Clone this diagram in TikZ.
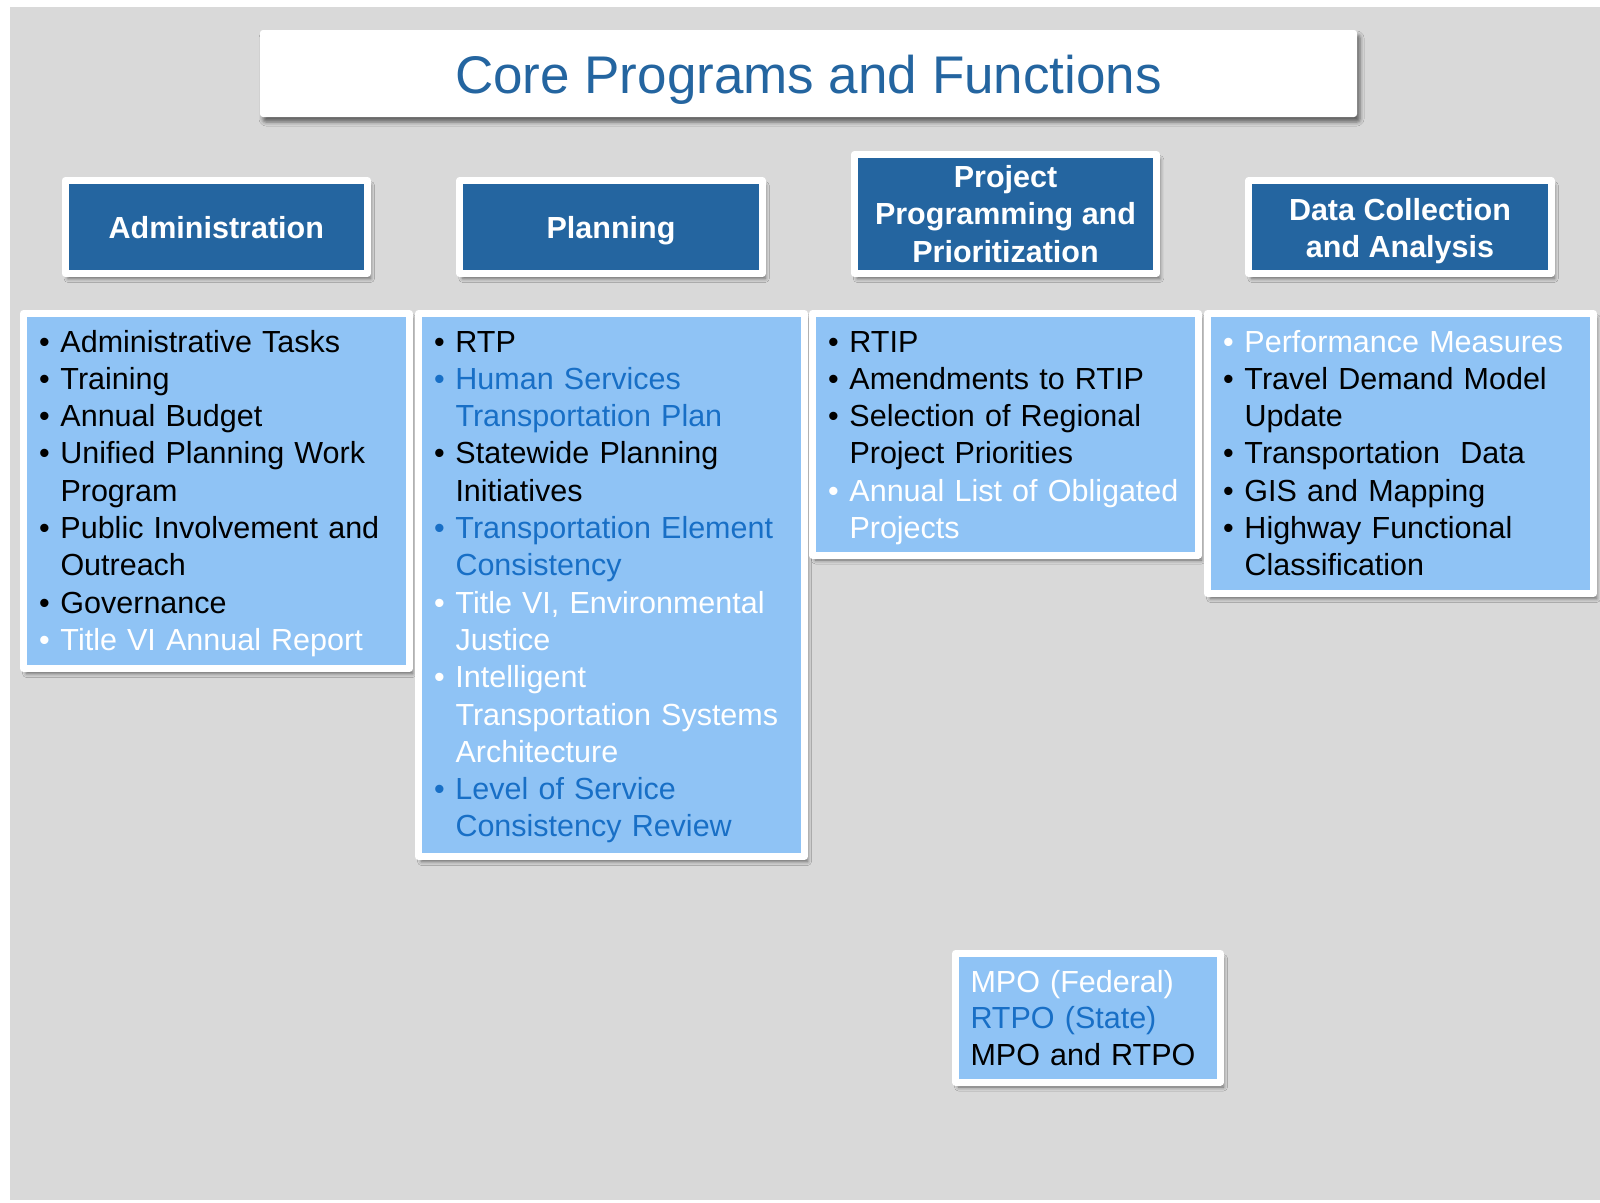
\documentclass[tikz,border=0pt]{standalone}
\usepackage{fontspec}
\setmainfont{Liberation Sans}
\usetikzlibrary{shadows.blur}

\definecolor{bggray}{RGB}{217,217,217}
\definecolor{hdrblue}{RGB}{36,101,160}
\definecolor{boxblue}{RGB}{143,195,245}
\definecolor{txtblue}{RGB}{24,111,198}

\newcommand{\bul}[2][black]{\mbox{\color{#1}\makebox[21.5pt][l]{\textbullet}#2}}
\newcommand{\cnt}[2][black]{\mbox{\color{#1}\hspace*{21.5pt}#2}}

\tikzstyle{shade}=[blur shadow={shadow xshift=3pt, shadow yshift=-5pt, shadow blur radius=4pt, shadow opacity=55}]
\tikzstyle{head}=[shade, draw=white, line width=7pt, line join=round, fill=hdrblue, text=white, font=\fontsize{30.5}{37.5}\selectfont\bfseries, align=center, inner sep=0pt, minimum width=302.5pt, minimum height=93pt, text height=30pt, text depth=7.2pt]
\tikzstyle{lst}=[shade, draw=white, line width=7pt, line join=round, fill=boxblue, anchor=north west, font=\fontsize{30.5}{37.3}\selectfont, align=left, inner xsep=15.5pt, inner ysep=0pt, text width=355pt, text height=38.5pt]

\begin{document}
\begin{tikzpicture}[x=1pt, y=-1pt]
    \useasboundingbox (0,0) rectangle (1600,1202);
    \fill[bggray] (10,7) rectangle (1600,1200);
    \node[shade, fill=white, rounded corners=3pt, minimum width=1097pt, minimum height=87pt, inner sep=0pt, text height=39pt, text depth=0pt, text=hdrblue, font=\fontsize{53}{60}\selectfont] (title) at (808.5,73.5) {Core Programs and Functions};
    \node[head] (head1) at (216.3,227) {Administration};
    \node[head] (head2) at (611,227) {Planning};
    \node[head, minimum height=119pt, text height=104pt] (head3) at (1005.5,214) {Project\\Programming and\\Prioritization};
    \node[head, text height=68.2pt] (head4) at (1400,227) {Data Collection\\and Analysis};
    \node[lst, text depth=316.5pt] (list1) at (20,310) {\bul{Administrative Tasks}\\
        \bul{Training}\\
        \bul{Annual Budget}\\
        \bul{Unified Planning Work}\\
        \cnt{Program}\\
        \bul{Public Involvement and}\\
        \cnt{Outreach}\\
        \bul{Governance}\\
        \bul[white]{Title VI Annual Report}};
    \node[lst, text depth=504.5pt] (list2) at (415,310) {\bul{RTP}\\
        \bul[txtblue]{Human Services}\\
        \cnt[txtblue]{Transportation Plan}\\
        \bul{Statewide Planning}\\
        \cnt{Initiatives}\\
        \bul[txtblue]{Transportation Element}\\
        \cnt[txtblue]{Consistency}\\
        \bul[white]{Title VI, Environmental}\\
        \cnt[white]{Justice}\\
        \bul[white]{Intelligent}\\
        \cnt[white]{Transportation Systems}\\
        \cnt[white]{Architecture}\\
        \bul[txtblue]{Level of Service}\\
        \cnt[txtblue]{Consistency Review}};
    \node[lst, text depth=203pt] (list3) at (809,310) {\bul{RTIP}\\
        \bul{Amendments to RTIP}\\
        \bul{Selection of Regional}\\
        \cnt{Project Priorities}\\
        \bul[white]{Annual List of Obligated}\\
        \cnt[white]{Projects}};
    \node[lst, text depth=241.5pt] (list4) at (1204,310) {\bul[white]{Performance Measures}\\
        \bul{Travel Demand Model}\\
        \cnt{Update}\\
        \bul{Transportation\ \ Data}\\
        \bul{GIS and Mapping}\\
        \bul{Highway Functional}\\
        \cnt{Classification}};
    \node[lst, font=\fontsize{30.5}{36.5}\selectfont, inner xsep=15pt, text width=235pt, text depth=90pt] (legend) at (952,950) {\mbox{\color{white}MPO (Federal)}\\
        \mbox{\color{txtblue}RTPO (State)}\\
        MPO and RTPO};
\end{tikzpicture}
\end{document}
